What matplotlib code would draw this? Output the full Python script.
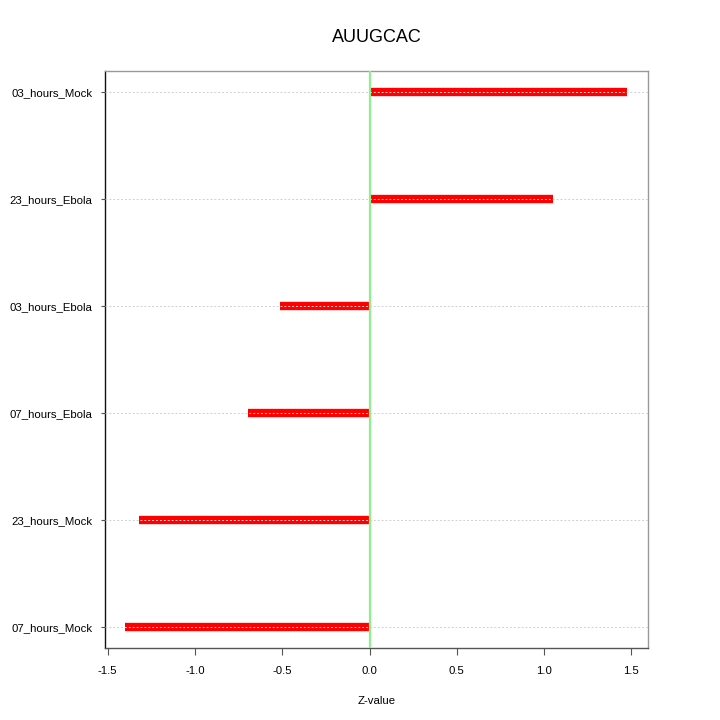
import matplotlib
matplotlib.use("Agg")
import matplotlib.pyplot as plt

plt.rcParams['font.family'] = ['Liberation Sans', 'DejaVu Sans']

categories = ["07_hours_Mock", "23_hours_Mock", "07_hours_Ebola",
              "03_hours_Ebola", "23_hours_Ebola", "03_hours_Mock"]
values = [-1.398, -1.323, -0.696, -0.513, 1.052, 1.472]
xticks = [-1.5, -1.0, -0.5, 0.0, 0.5, 1.0, 1.5]

fig = plt.figure(figsize=(7.2, 7.2), dpi=100)
ax = fig.add_axes([0.1458, 0.1, 0.9 - 0.1458, 0.9014 - 0.1])

ypos = list(range(1, len(categories) + 1))
ax.hlines(ypos, 0, values, colors="#ff0000", linewidth=6, zorder=2)
for y in ypos:
    ax.axhline(y, color="#d0d0d0", linestyle=(0, (2, 2)), linewidth=0.7, zorder=3)
ax.axvline(0, color="#90ee90", linewidth=1.6, zorder=4)

ax.set_xlim(-1.515, 1.595)
ax.set_ylim(0.8, 6.2)
ax.set_yticks(ypos)
ax.set_yticklabels(categories, fontsize=8.2)
ax.set_xticks(xticks)
ax.set_xticklabels([f"{t:.1f}" for t in xticks], fontsize=8.2)
ax.tick_params(axis='x', length=5, width=0.8, color="#555555", pad=8)
ax.tick_params(axis='y', length=3, width=0.8, color="#555555", pad=6)
ax.spines['left'].set_color("#111111")
ax.spines['bottom'].set_color("#555555")
ax.spines['top'].set_color("#999999")
ax.spines['right'].set_color("#999999")
for s in ax.spines.values():
    s.set_linewidth(1.0)

ax.set_xlabel("Z-value", fontsize=8.2, labelpad=14)
ax.set_title("AUUGCAC", fontsize=13, pad=21)

fig.savefig("out.png", dpi=100)
